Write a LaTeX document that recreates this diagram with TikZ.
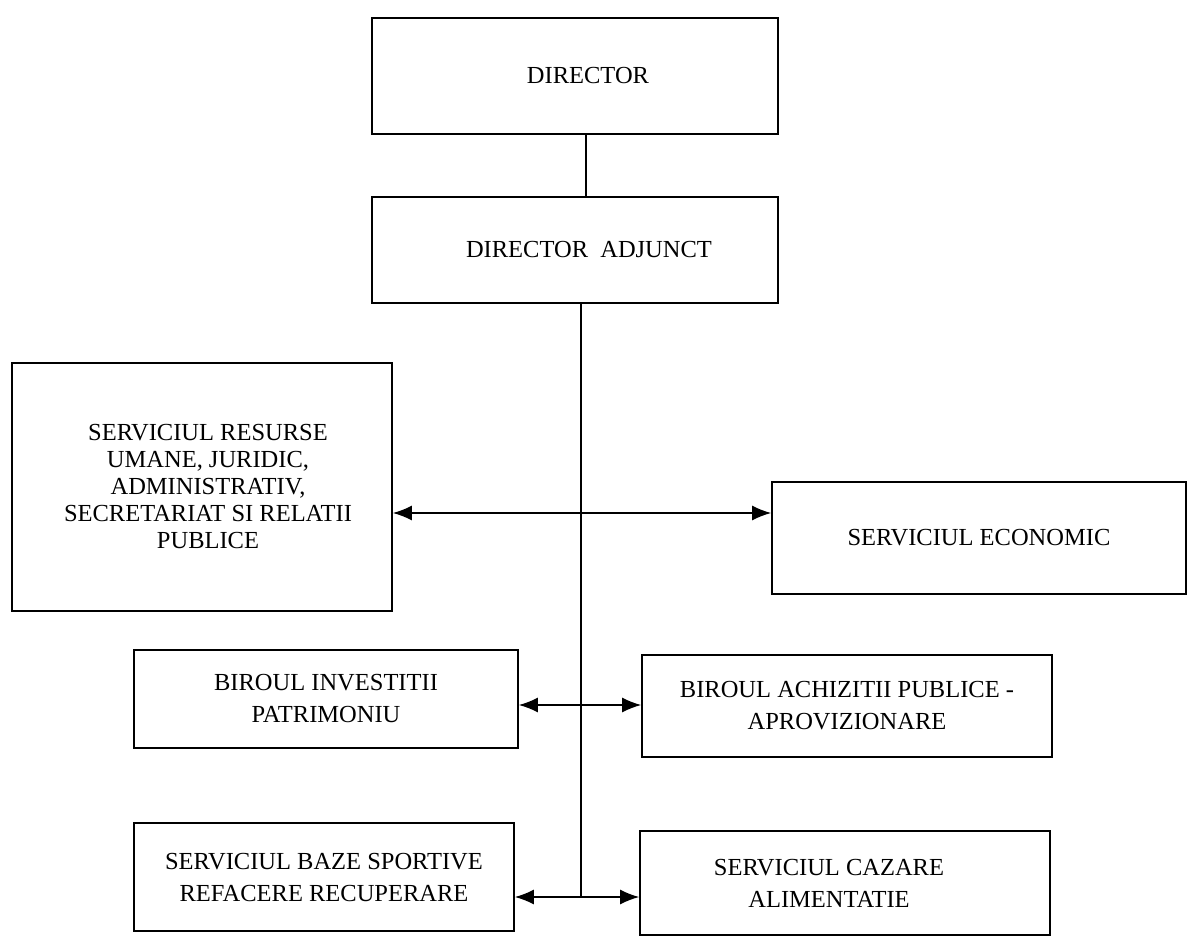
\documentclass[tikz,border=0pt]{standalone}
\usepackage{fontspec}
\setmainfont{Liberation Serif}
\usetikzlibrary{arrows.meta}
\begin{document}
\begin{tikzpicture}[x=1pt,y=-1pt,
  box/.style={draw, line width=1.8pt, rectangle, inner sep=0pt, align=center,
    font=\fontsize{24.5}{32}\selectfont},
  tight/.style={font=\fontsize{24.5}{27}\selectfont},
  link/.style={line width=1.3pt},
  dbl/.style={line width=1.3pt, {Latex[length=19pt,width=15pt]}-{Latex[length=19pt,width=15pt]}}]
\useasboundingbox (0,0) rectangle (1188,936);
\node[box, minimum width=406, minimum height=116] (dir) at (575,76) {\hspace*{26pt}DIRECTOR};
\node[box, minimum width=406, minimum height=106] (adj) at (575,250) {\hspace*{28pt}DIRECTOR\ \ ADJUNCT};
\node[box, tight, minimum width=380, minimum height=248] (res) at (202,487) {\hspace*{12pt}SERVICIUL RESURSE\\\hspace*{12pt}UMANE, JURIDIC,\\\hspace*{12pt}ADMINISTRATIV,\\\hspace*{12pt}SECRETARIAT SI RELATII\\\hspace*{12pt}PUBLICE};
\node[box, minimum width=414, minimum height=112] (eco) at (979,538) {SERVICIUL ECONOMIC};
\node[box, minimum width=384, minimum height=98] (inv) at (326,699) {BIROUL INVESTITII\\PATRIMONIU};
\node[box, minimum width=410, minimum height=102] (ach) at (847,706) {BIROUL ACHIZITII PUBLICE -\\APROVIZIONARE};
\node[box, minimum width=380, minimum height=108] (baz) at (324,877) {SERVICIUL BAZE SPORTIVE\\REFACERE RECUPERARE};
\node[box, minimum width=410, minimum height=104] (caz) at (845,883) {SERVICIUL CAZARE\hspace*{32pt}\\ALIMENTATIE\hspace*{32pt}};
\coordinate (t) at (581,897);
\coordinate (a1) at (0,513);
\coordinate (a2) at (0,705);
\draw[link] ([xshift=11pt]dir.south) -- ([xshift=11pt]adj.north);
\draw[link] (adj.south -| t) -- (t);
\draw[dbl] (res.east |- a1) -- (eco.west |- a1);
\draw[dbl] (inv.east |- a2) -- (ach.west |- a2);
\draw[dbl] (baz.east |- t) -- (caz.west |- t);
\end{tikzpicture}
\end{document}
